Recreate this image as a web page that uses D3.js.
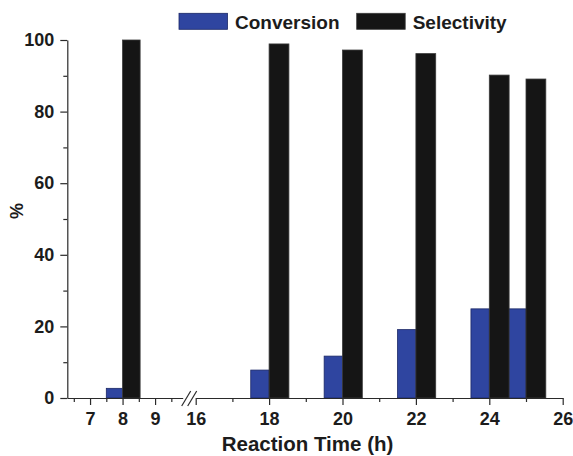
<!DOCTYPE html>
<html>
<head>
<meta charset="utf-8">
<script src="https://cdn.jsdelivr.net/npm/d3@7"></script>
<style>
  html, body { margin: 0; padding: 0; background: #fff; }
  svg { display: block; font-family: "Liberation Sans", Arial, Helvetica, sans-serif; }
  .axis text { font-weight: bold; fill: #1c1c1c; }
  .axis path, .axis line { stroke: #2a2a2a; stroke-width: 1.2; }
</style>
</head>
<body>
<svg id="chart" width="573" height="456"></svg>
<script>
// Reaction times (h) and measured values (%)
const times = [8, 18, 20, 22, 24, 25];
const conversion = [2.7, 7.8, 11.7, 19.1, 24.9, 24.9];
const selectivity = [100, 98.9, 97.2, 96.2, 90.2, 89.1];

const seriesNames = ["Conversion", "Selectivity"];
const seriesColors = ["#2f45a0", "#151515"];

// Tick values for the broken time axis and the percent axis
const leftTicks = [7, 8, 9];
const leftMinor = [6.5, 7.5, 8.5, 9.5];
const rightTicks = [16, 18, 20, 22, 24, 26];
const rightMinor = [17, 19, 21, 23, 25];
const yTicks = [0, 20, 40, 60, 80, 100];
const yMinor = [10, 30, 50, 70, 90];

const svg = d3.select("#chart");

// Layout
const plotLeft = 67.3, plotBottom = 398, plotTop = 40;
const breakLeft = 182.7, breakRight = 195.7, plotRight = 562.7;

const y = d3.scaleLinear().domain([0, 100]).range([plotBottom, plotTop]);
// Two segments of the time axis, joined by a break
const xL = d3.scaleLinear().domain([6.3, 9.85]).range([plotLeft, breakLeft]);
const xR = d3.scaleLinear().domain([16, 26]).range([breakRight, plotRight]);
const xOf = t => (t < 12 ? xL(t) : xR(t));

const convW = 0.5, selW = 0.54;

const rows = times.map((t, i) => ({ t, conv: conversion[i], sel: selectivity[i] }));

// Conversion bars sit left of the time, selectivity bars to its right
svg.append("g").selectAll("rect").data(rows).join("rect")
  .attr("x", d => xOf(d.t - convW))
  .attr("width", d => xOf(d.t) - xOf(d.t - convW))
  .attr("y", d => y(d.conv))
  .attr("height", d => y(0) - y(d.conv))
  .attr("fill", seriesColors[0])
  .attr("stroke", "#1b2766").attr("stroke-width", 0.8);

svg.append("g").selectAll("rect").data(rows).join("rect")
  .attr("x", d => xOf(d.t))
  .attr("width", d => xOf(d.t + selW) - xOf(d.t))
  .attr("y", d => y(d.sel))
  .attr("height", d => y(0) - y(d.sel))
  .attr("fill", seriesColors[1])
  .attr("stroke", "#3a3a3a").attr("stroke-width", 0.8);

// Y axis
const yAxis = svg.append("g").attr("class", "axis")
  .attr("transform", `translate(${plotLeft},0)`)
  .call(d3.axisLeft(y).tickValues(yTicks).tickSize(7).tickSizeOuter(0).tickPadding(6));
yAxis.selectAll("text").style("font-size", "18px");
svg.append("g").attr("class", "axis")
  .attr("transform", `translate(${plotLeft},0)`)
  .call(d3.axisLeft(y).tickValues(yMinor).tickSize(4).tickFormat(""))
  .select(".domain").remove();

// X axis segments with major and minor ticks
function bottomAxis(scale, major, minor) {
  const g = svg.append("g").attr("class", "axis")
    .attr("transform", `translate(0,${plotBottom})`)
    .call(d3.axisBottom(scale).tickValues(major).tickFormat(d3.format("d"))
      .tickSize(7).tickSizeOuter(0).tickPadding(7));
  g.selectAll("text").style("font-size", "18px");
  svg.append("g").attr("class", "axis")
    .attr("transform", `translate(0,${plotBottom})`)
    .call(d3.axisBottom(scale).tickValues(minor).tickSize(4).tickFormat(""))
    .select(".domain").remove();
}
bottomAxis(xL, leftTicks, leftMinor);
bottomAxis(xR, rightTicks, rightMinor);

// Break marks
const slash = [[-4.5, 8], [4.5, -7]];
[breakLeft + 3.5, breakRight - 3.5].forEach(cx => {
  svg.append("line")
    .attr("x1", cx + slash[0][0]).attr("y1", plotBottom + slash[0][1])
    .attr("x2", cx + slash[1][0]).attr("y2", plotBottom + slash[1][1])
    .attr("stroke", "#2a2a2a").attr("stroke-width", 1.2);
});

// Axis titles
svg.append("text")
  .attr("x", 307.5).attr("y", 451)
  .attr("text-anchor", "middle")
  .style("font-size", "20.5px").style("font-weight", "bold").style("fill", "#1c1c1c")
  .text("Reaction Time (h)");
svg.append("text")
  .attr("transform", "translate(23,211) rotate(-90)")
  .attr("text-anchor", "middle")
  .style("font-size", "18px").style("font-weight", "bold").style("fill", "#1c1c1c")
  .text("%");

// Legend
const legendX = [179, 356.7];
seriesNames.forEach((name, i) => {
  svg.append("rect")
    .attr("x", legendX[i]).attr("y", 13.3)
    .attr("width", 48.5).attr("height", 16)
    .attr("fill", seriesColors[i])
    .attr("stroke", i === 0 ? "#1b2766" : "#3a3a3a").attr("stroke-width", 0.8);
  svg.append("text")
    .attr("x", legendX[i] + 56).attr("y", 28.5)
    .style("font-size", "19px").style("font-weight", "bold").style("fill", "#1c1c1c")
    .text(name);
});
</script>
</body>
</html>
